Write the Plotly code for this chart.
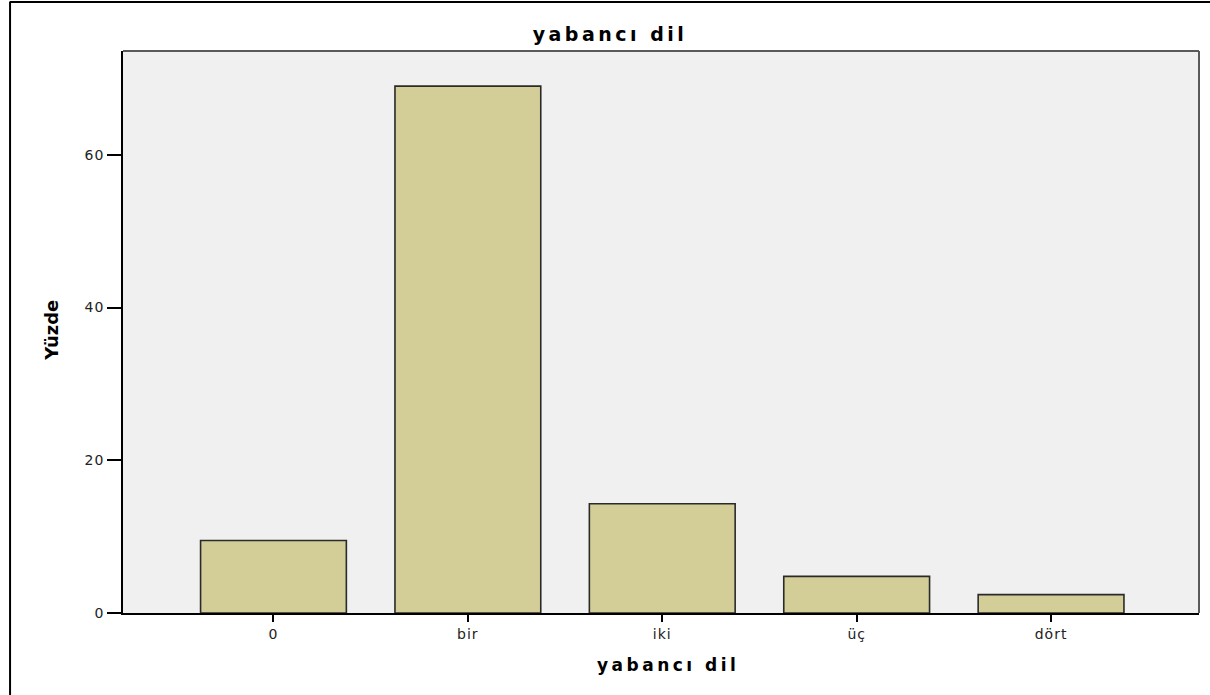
import plotly.graph_objects as go

# Data
categories = ["0", "bir", "iki", "üç", "dört"]
percent = [9.5, 69.0, 14.3, 4.8, 2.4]
y_ticks = [0, 20, 40, 60]
title_text = "yabancı dil"
x_title = "yabancı dil"
y_title = "Yüzde"

W, H = 1210, 695
L, R, T, B = 122.5, 11, 50.5, 82
pw, ph = W - L - R, H - T - B


def px_x(x):
    return (x - L) / pw


def px_y(y):
    return (H - B - y) / ph


def spaced(s, sp):
    return f'<span style="letter-spacing:{sp}px">{s}</span>'


FONT = "DejaVu Sans"
FONT_B = "DejaVu Sans"

fig = go.Figure()
fig.add_trace(go.Bar(
    x=categories, y=percent, width=0.75,
    marker=dict(color="#D3CE97", line=dict(color="#2a2a2a", width=1.6)),
    showlegend=False,
))

fig.update_layout(
    width=W, height=H,
    margin=dict(l=L, r=R, t=T, b=B, pad=0),
    paper_bgcolor="white", plot_bgcolor="#F0F0F0",
    title=dict(text=spaced("<b>" + title_text + "</b>", 3.5), x=610 / W, xref="container",
               xanchor="center", y=1 - 34 / H, yref="container", yanchor="middle",
               font=dict(family=FONT_B, size=19, color="black")),
    xaxis=dict(
        type="category", range=[-0.774, 4.761],
        tickmode="array", tickvals=categories,
        ticktext=[spaced(c, 1) for c in categories],
        ticks="outside", ticklen=7, tickwidth=1.5, tickcolor="black",
        showline=True, linecolor="black", linewidth=1.5,
        showgrid=False, zeroline=False,
        tickfont=dict(family=FONT, size=14, color="#222"),
    ),
    yaxis=dict(
        range=[0, 73.6], tickmode="array", tickvals=y_ticks,
        ticktext=[spaced(str(v), 1) for v in y_ticks],
        ticks="outside", ticklen=14, tickwidth=1.5, tickcolor="black",
        showline=True, linecolor="black", linewidth=1.5,
        showgrid=False, zeroline=False,
        tickfont=dict(family=FONT, size=14, color="#222"),
    ),
    annotations=[
        dict(text=spaced("<b>" + x_title + "</b>", 3.5), x=px_x(668), y=px_y(665),
             xref="paper", yref="paper", xanchor="center", yanchor="middle",
             showarrow=False, font=dict(family=FONT_B, size=17, color="black")),
        dict(text="<b>" + y_title + "</b>", x=px_x(51), y=px_y(330),
             xref="paper", yref="paper", xanchor="center", yanchor="middle",
             textangle=-90, showarrow=False,
             font=dict(family=FONT_B, size=18, color="black")),
    ],
    shapes=[
        # plot frame top & right
        dict(type="line", xref="paper", yref="paper", x0=0, x1=1, y0=1, y1=1,
             line=dict(color="#5a5a5a", width=2)),
        dict(type="line", xref="paper", yref="paper", x0=1, x1=1, y0=0, y1=1,
             line=dict(color="#5a5a5a", width=2)),
        # outer frame top & left
        dict(type="line", xref="paper", yref="paper", x0=px_x(9), x1=px_x(1215),
             y0=px_y(1.5), y1=px_y(1.5), line=dict(color="black", width=2)),
        dict(type="line", xref="paper", yref="paper", x0=px_x(9.5), x1=px_x(9.5),
             y0=px_y(1.5), y1=px_y(700), line=dict(color="black", width=2)),
    ],
)

fig.write_html("out.html", config={"displayModeBar": False},
               post_script="document.body.style.margin='0';")
